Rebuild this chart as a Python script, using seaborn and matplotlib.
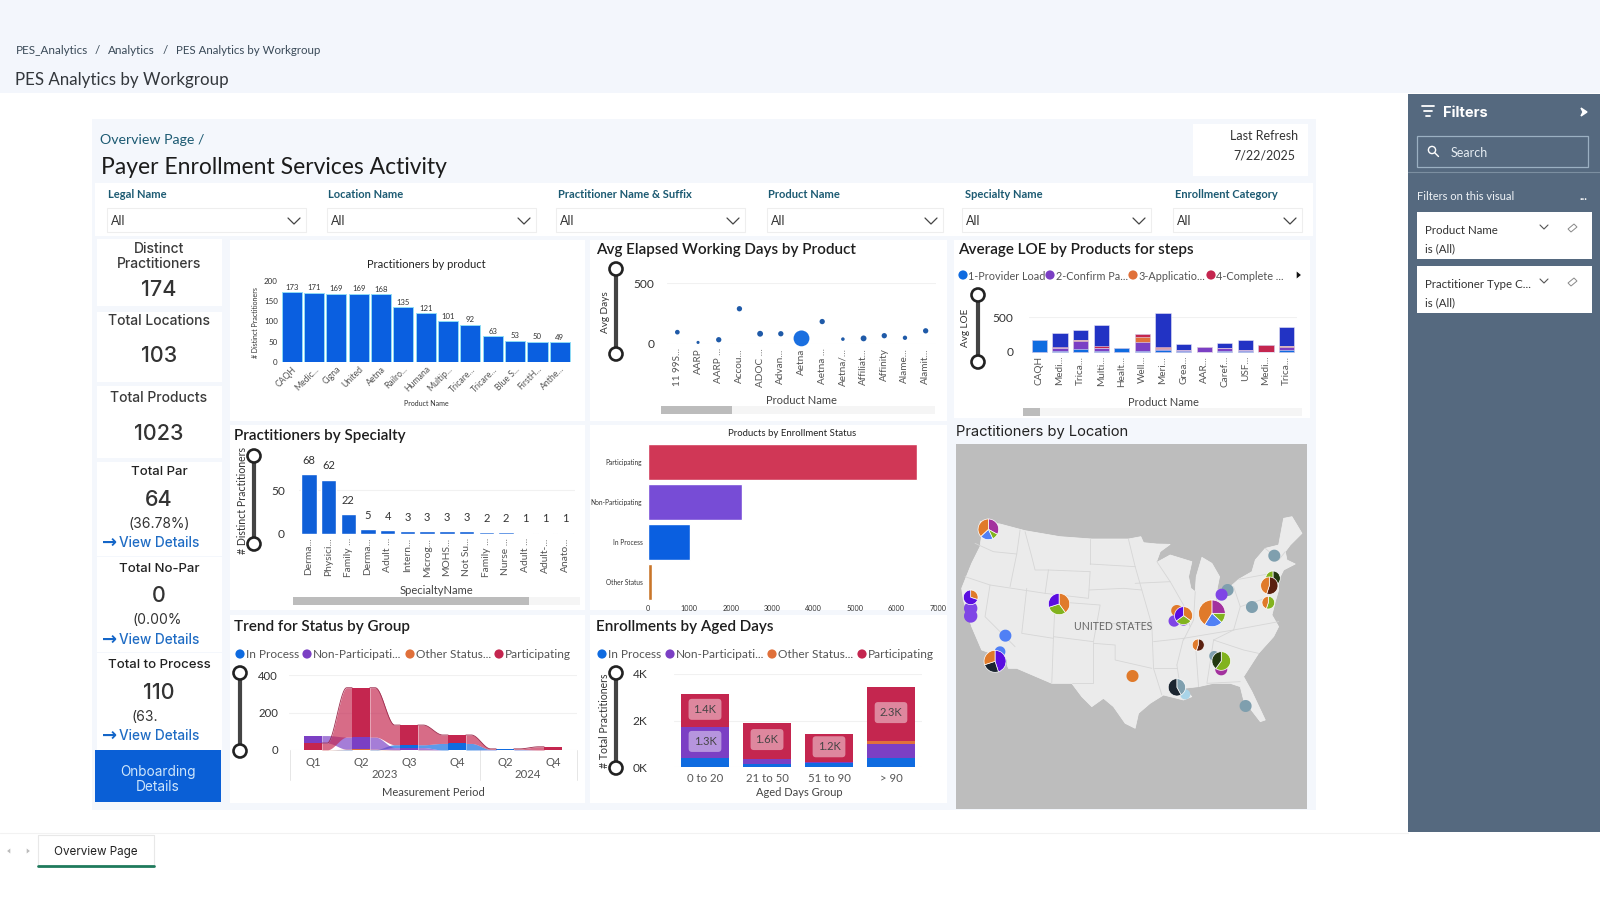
import numpy as np
import pandas as pd
import matplotlib
matplotlib.use("Agg")
import matplotlib.pyplot as plt
import seaborn as sns
from matplotlib.patches import Rectangle, Circle, Polygon

# ---- data ----
product_names = ["CAQH", "Medic...", "Cigna", "United", "Aetna", "Railro...", "Humana",
                 "Multip...", "Tricare...", "Tricare...", "Blue S...", "FirstH...", "Anthe..."]
product_counts = [173, 171, 169, 169, 168, 135, 121, 101, 92, 63, 53, 50, 49]

elapsed_names = ["11 99S...", "AARP", "AARP ...", "Accou...", "ADOC ...", "Advan...", "Aetna",
                 "Aetna ...", "Aetna/...", "Affiliat...", "Affinity", "Alame...", "Alamit..."]
elapsed_days = [97, 13, 35, 289, 84, 84, 46, 184, 40, 46, 68, 51, 108]
elapsed_weight = [3, 1, 4, 4, 5, 4, 40, 4, 1.5, 5, 4, 2.5, 4]

loe_names = ["CAQH", "Medi...", "Trica...", "Multi...", "Healt...", "Well...", "Meri...",
             "Grea...", "AAR...", "Caref...", "USF...", "Medi...", "Trica..."]
loe_provider = [170, 12, 45, 12, 48, 5, 20, 15, 0, 5, 12, 0, 25]
loe_confirm = [0, 45, 105, 40, 0, 135, 25, 15, 65, 45, 10, 0, 40]
loe_application = [0, 0, 15, 5, 0, 70, 10, 0, 0, 5, 0, 0, 10]
loe_complete = [0, 5, 0, 20, 0, 47, 15, 0, 8, 5, 0, 102, 10]
loe_other = [0, 205, 150, 311, 0, 0, 488, 82, 0, 61, 148, 0, 269]

specialty_names = ["Derma...", "Physici...", "Family ...", "Derma...", "Adult ...", "Intern...", "Microg...",
                   "MOHS...", "Not Su...", "Family ...", "Nurse ...", "Adult ...", "Adult-...", "Anato..."]
specialty_counts = [68, 62, 22, 5, 4, 3, 3, 3, 3, 2, 2, 1, 1, 1]

status_names = ["Participating", "Non-Participating", "In Process", "Other Status"]
status_totals = [6500, 2280, 1020, 100]

period_labels = ["Q1", "Q2", "Q3", "Q4", "Q2", "Q4"]
trend_in_process = [0, 2, 15, 35, 2, 0]
trend_non_part = [40, 65, 12, 0, 1, 0]
trend_other = [1, 2, 1, 0, 0, 0]
trend_part = [36, 263, 105, 45, 3, 17]

aged_groups = ["0 to 20", "21 to 50", "51 to 90", "> 90"]
aged_in_process = [390, 130, 170, 390]
aged_non_part = [1320, 215, 40, 600]
aged_other = [20, 10, 0, 140]
aged_part = [1400, 1550, 1220, 2320]
aged_part_labels = ["1.4K", "1.6K", "1.2K", "2.3K"]

# map sites: x, y on the map panel, radius, pie parts, pie colours
ORANGE, MAGENTA, GREEN, BLUE2 = "#e07a2a", "#a3319e", "#82b31e", "#5080f5"
VIOLET, PURPLE2, TEAL, DARK = "#5a0de0", "#7f45e6", "#7f9fae", "#1b2530"
BROWN, LBLUE, DGREEN = "#5a2010", "#a9d4e8", "#23380f"
map_x = [115, 62, 62, 62, 327, 166, 150, 155, 135, 547, 680, 672, 700, 700, 832, 785, 814, 744,
         972, 905, 954, 968, 957, 792, 813, 813, 705, 680, 886]
map_y = [328, 565, 588, 532, 552, 647, 695, 725, 724, 768, 572, 603, 600, 587, 510, 580, 524, 675,
         407, 561, 548, 475, 497, 708, 748, 723, 823, 802, 858]
map_r = [31, 20, 20, 22, 32, 18, 16, 15, 33, 18, 17, 17, 17, 27, 18, 40, 18, 18,
         18, 18, 19, 22, 26, 15, 18, 28, 15, 26, 18]
map_parts = [[33, 10, 20, 37], [1], [1], [30, 70], [40, 30, 30], [1], [1], [1], [45, 25, 30], [1],
             [1], [1], [1], [35, 30, 35], [1], [25, 12, 22, 41], [1], [55, 45],
             [1], [1], [55, 45], [50, 50], [55, 45], [1], [1], [60, 40], [1], [42, 58], [1]]
map_colors = [[MAGENTA, GREEN, BLUE2, ORANGE], [PURPLE2], [PURPLE2], [ORANGE, VIOLET],
              [ORANGE, GREEN, VIOLET], [BLUE2], [BLUE2], [TEAL], [VIOLET, DARK, ORANGE], [ORANGE],
              [ORANGE], [PURPLE2], [PURPLE2], [ORANGE, GREEN, VIOLET], [TEAL],
              [MAGENTA, GREEN, BLUE2, ORANGE], [PURPLE2], [BROWN, ORANGE],
              [TEAL], [TEAL], [GREEN, ORANGE], [DGREEN, GREEN], [BROWN, ORANGE], [TEAL], [MAGENTA],
              [GREEN, DGREEN], [LBLUE], [TEAL, DARK], [TEAL]]

us_outline = [(90, 305), (150, 312), (225, 332), (330, 350), (425, 357), (535, 357), (572, 350),
              (580, 368), (620, 372), (660, 373), (630, 395), (618, 428), (660, 405), (725, 425),
              (715, 470), (722, 505), (735, 515), (738, 470), (755, 412), (785, 430), (808, 470),
              (800, 510), (835, 505), (865, 478), (905, 455), (915, 420), (945, 385), (985, 375),
              (1000, 295), (1025, 290), (1055, 340), (1020, 375), (1005, 395), (1010, 420),
              (1035, 432), (1000, 450), (985, 480), (985, 510), (975, 545), (965, 585), (985, 620),
              (970, 650), (925, 700), (880, 770), (905, 815), (945, 900), (930, 905), (880, 840),
              (870, 800), (840, 790), (790, 790), (745, 800), (700, 805), (725, 830), (700, 840),
              (640, 825), (600, 850), (565, 880), (555, 925), (525, 910), (490, 860), (460, 835),
              (425, 860), (395, 830), (365, 790), (305, 790), (200, 745), (175, 745), (165, 715),
              (95, 690), (65, 620), (40, 540), (35, 505), (65, 430), (90, 380), (95, 345)]
us_lines = [
    [(75, 370), (130, 395), (200, 402)], [(210, 330), (200, 402), (180, 500)],
    [(225, 335), (245, 410), (255, 450), (295, 450)], [(420, 357), (420, 432)],
    [(295, 450), (420, 455)], [(420, 432), (555, 440)], [(417, 510), (520, 505), (575, 510)],
    [(295, 450), (285, 520), (415, 535), (420, 455)], [(45, 470), (120, 495), (285, 520)],
    [(120, 495), (105, 590), (195, 680)], [(230, 505), (215, 640), (310, 655), (315, 545)],
    [(315, 545), (450, 555), (430, 665), (310, 650)], [(310, 655), (305, 790)],
    [(430, 665), (430, 790), (365, 790)], [(430, 670), (495, 675), (495, 720), (605, 745)],
    [(450, 610), (605, 615)], [(535, 358), (555, 440), (575, 510), (605, 615), (610, 745), (635, 825)],
    [(555, 490), (660, 485)], [(620, 425), (660, 485), (700, 555), (720, 620), (700, 660)],
    [(610, 665), (700, 655), (850, 630), (985, 605)], [(680, 735), (700, 655)],
    [(610, 745), (680, 745)], [(680, 735), (690, 800)], [(735, 665), (745, 800)], [(790, 660), (770, 790), (870, 785)],
    [(735, 515), (730, 600), (720, 620)], [(800, 515), (795, 600)], [(850, 500), (870, 560), (850, 630)],
    [(865, 478), (965, 460)], [(870, 560), (960, 530)], [(790, 660), (880, 690), (925, 700)],
    [(850, 630), (790, 660)], [(945, 385), (985, 420), (1005, 395)],
]

STATUS_BLUE, STATUS_PURPLE, STATUS_ORANGE, STATUS_RED = "#0f6be0", "#7b3fc4", "#e0703a", "#c4264f"
INK = "#333333"
LABEL_GRAY = "#555555"

sns.set_theme(style="white")
plt.rcParams["font.family"] = ["Lato", "DejaVu Sans"]
plt.rcParams["axes.unicode_minus"] = False

W, H = 1600, 900
fig = plt.figure(figsize=(16, 9), dpi=100, facecolor="white")
ui = fig.add_axes([0, 0, 1, 1], zorder=0)
ui.set_xlim(0, W)
ui.set_ylim(H, 0)
ui.axis("off")


def chart_axes(x0, y0, x1, y1):
    """Axes placed by pixel box, y0 is the top edge."""
    ax = fig.add_axes([x0 / W, 1 - y1 / H, (x1 - x0) / W, (y1 - y0) / H], zorder=2)
    ax.patch.set_alpha(0)
    return ax


def box(x0, y0, x1, y1, color="white", ec="none", lw=0, z=1):
    ui.add_patch(Rectangle((x0, y0), x1 - x0, y1 - y0, facecolor=color, edgecolor=ec, linewidth=lw, zorder=z))


def label(x, y, s, size=9, color=INK, ha="left", weight="normal", family=None, rot=0, z=6):
    fam = family if family else ["Lato", "DejaVu Sans"]
    ui.text(x, y + 1, s, fontsize=size, color=color, ha=ha, va="center", fontweight=weight,
            family=fam, rotation=rot, zorder=z)


def slider(x, y0, y1):
    ui.plot([x, x], [y0, y1], color="#444444", lw=3, zorder=4, solid_capstyle="butt")
    for y in (y0, y1):
        ui.add_patch(Circle((x, y), 6.5, facecolor="white", edgecolor="#222222", linewidth=1.9, zorder=5))


def scrollbar(x0, x1, y0, y1, track_end):
    box(x1, y0, track_end, y1, "#f5f5f5", z=3)
    box(x0, y0, x1, y1, "#bcbcbc", z=3)


def legend_row(y, xs, names, colors, size=8.6):
    for x, name, col in zip(xs, names, colors):
        ui.add_patch(Circle((x, y), 4.6, facecolor=col, edgecolor="none", zorder=5))
        label(x + 5.5, y, name, size=size, color=LABEL_GRAY)


def clean_axes(ax, grid=True):
    sns.despine(ax=ax, left=True, bottom=True)
    ax.tick_params(length=0, pad=2)
    ax.set_xlabel("")
    ax.set_ylabel("")
    if grid:
        ax.grid(axis="y", color="#f1f1f1", lw=0.8)
        ax.set_axisbelow(True)


def stacked_bars(ax, series, colors, width, edge="#e8e4f4"):
    # tallest stack first, each lower series painted over it
    totals = np.cumsum(np.array(series, dtype=float), axis=0)
    pos = np.arange(totals.shape[1])
    for level in range(len(series) - 1, -1, -1):
        sns.barplot(x=pos, y=totals[level], color=colors[level], saturation=1, width=width,
                    edgecolor=edge, linewidth=0.4, clip_on=False, ax=ax)


# ---- page chrome ----
box(0, 0, W, 93, "#f3f6fc")
box(92, 119, 1316, 810, "#f4f7fc")
label(16, 49, "PES_Analytics", size=8.4, color="#3a4a58")
label(95, 49, "/", size=8.4, color="#3a4a58")
label(108, 49, "Analytics", size=8.4, color="#3a4a58")
label(163, 49, "/", size=8.4, color="#3a4a58")
label(176, 49, "PES Analytics by Workgroup", size=8.25, color="#3a4a58")
label(15, 79, "PES Analytics by Workgroup", size=12.2, color="#33373c")

label(100, 139, "Overview Page /", size=10.2, color="#1c5a72")
label(101, 167, "Payer Enrollment Services Activity", size=16.5, color="#1c1c1c")
box(1193, 124, 1308, 176)
label(1264, 135, "Last Refresh", size=9, ha="center")
label(1264, 155, "7/22/2025", size=9, ha="center")

# slicer row
box(95, 183, 1313, 236)
slicer_names = ["Legal Name", "Location Name", "Practitioner Name & Suffix", "Product Name",
                "Specialty Name", "Enrollment Category"]
slicer_label_x = [108, 328, 558, 768, 965, 1175]
slicer_box = [(107, 306), (327, 536), (556, 745), (767, 943), (962, 1151), (1173, 1302)]
for name, lx, (b0, b1) in zip(slicer_names, slicer_label_x, slicer_box):
    label(lx, 193, name, size=8, color="#1c5a72", weight="bold")
    box(b0, 208, b1, 232, "white", ec="#eeeeee", lw=0.8, z=2)
    label(b0 + 4, 220, "All", size=9, color="#333333")
    ui.plot([b1 - 18, b1 - 12, b1 - 6], [218, 224, 218], color="#444444", lw=0.9, zorder=3)

# KPI cards
card_font = ["Inter", "DejaVu Sans"]
for y0, y1 in [(239, 306), (312, 382), (386, 458), (462, 556), (557, 652), (653, 750)]:
    box(97, y0, 222, y1)
label(159, 248, "Distinct", size=10, ha="center", family=card_font, color="#3a3a3a", weight="medium")
label(159, 263, "Practitioners", size=10, ha="center", family=card_font, color="#3a3a3a", weight="medium")
label(159, 289, "174", size=15.5, ha="center", family=card_font, color="#333333", weight="medium")
label(159, 320, "Total Locations", size=10, ha="center", family=card_font, color="#3a3a3a", weight="medium")
label(159, 355, "103", size=15.5, ha="center", family=card_font, color="#333333", weight="medium")
label(159, 397, "Total Products", size=10, ha="center", family=card_font, color="#3a3a3a", weight="medium")
label(159, 433, "1023", size=15.5, ha="center", family=card_font, color="#333333", weight="medium")

kpi_titles = ["Total Par", "Total No-Par", "Total to Process"]
kpi_values = ["64", "0", "110"]
kpi_shares = ["(36.78%)", "(0.00%", "(63."]
kpi_share_x = [159, 157, 145]
for i, (t, v, s) in enumerate(zip(kpi_titles, kpi_values, kpi_shares)):
    y = 471 + i * 96.5
    label(159, y, t, size=9.5, ha="center", family=card_font, color="#222222", weight="medium")
    label(159, y + 28, v, size=15.5, ha="center", family=card_font, color="#333333", weight="medium")
    label(kpi_share_x[i], y + 52, s, size=10, ha="center", family=card_font, color="#333333")
    label(102, y + 71, "\u2192", size=13, color="#1466c8", weight="bold", family=["DejaVu Sans"])
    label(119, y + 71, "View Details", size=9.8, color="#1f6cc4", family=card_font, weight="medium")
box(95, 750, 221, 802, "#0a5fd6")
label(158, 771, "Onboarding", size=9.8, ha="center", color="#cfe6fb", family=card_font)
label(158, 786, "Details", size=9.8, ha="center", color="#cfe6fb", family=card_font)

# chart cards
for x0, y0, x1, y1 in [(230, 240, 585, 421), (590, 240, 947, 421), (954, 240, 1310, 418),
                       (230, 425, 585, 610), (590, 425, 947, 610),
                       (230, 615, 585, 803), (590, 615, 947, 803)]:
    box(x0, y0, x1, y1)

TITLE_KW = dict(size=11, color="#1e1e1e", weight="semibold")
label(596, 249, "Avg Elapsed Working Days by Product", **TITLE_KW)
label(958, 249, "Average LOE by Products for steps", **TITLE_KW)
label(234, 435, "Practitioners by Specialty", **TITLE_KW)
label(234, 626, "Trend for Status by Group", **TITLE_KW)
label(596, 626, "Enrollments by Aged Days", **TITLE_KW)
label(956, 431, "Practitioners by Location", size=10.6, color="#222222", family=card_font)
label(426, 263, "Practitioners by product", size=8, ha="center", color="#222222")
label(792, 432, "Products by Enrollment Status", size=6.9, ha="center", color="#222222")

# ---- Practitioners by product ----
ax = chart_axes(280.5, 281, 571, 362)
sns.barplot(x=np.arange(len(product_counts)), y=product_counts, color="#0a5fe0", saturation=1,
            width=0.9, edgecolor="#8fdcf5", linewidth=0.7, ax=ax)
clean_axes(ax, grid=False)
ax.set_ylim(0, 200)
ax.set_yticks([0, 50, 100, 150, 200])
ax.tick_params(axis="y", labelsize=5.8, labelcolor=INK)
ax.set_xticks(np.arange(len(product_names)), product_names, rotation=45, ha="right",
              rotation_mode="anchor", fontsize=6.2, color=LABEL_GRAY)
ax.bar_label(ax.containers[0], fontsize=5.6, color=INK, padding=1)
label(256, 322, "# Distinct Practitioners", size=5, rot=90, ha="center")
label(426, 403, "Product Name", size=5, ha="center")

# ---- Avg elapsed days ----
slider(616, 269, 354)
label(605, 311, "Avg Days", size=7.2, rot=90, ha="center")
elapsed_df = pd.DataFrame({"pos": np.arange(len(elapsed_days)), "days": elapsed_days,
                           "weight": elapsed_weight,
                           "hot": [n == "Aetna" for n in elapsed_names]})
ax = chart_axes(667, 283, 936, 344)
sns.scatterplot(data=elapsed_df, x="pos", y="days", size="weight", sizes=(5, 130), hue="hot",
                palette={False: "#1f5aa8", True: "#1a6fe0"}, legend=False, linewidth=0, clip_on=False, ax=ax)
clean_axes(ax)
ax.set_xlim(-0.5, 12.5)
ax.set_ylim(0, 500)
ax.set_yticks([0, 500])
ax.tick_params(axis="y", labelsize=8.6, labelcolor=INK, pad=9)
ax.set_xticks(np.arange(len(elapsed_names)), elapsed_names, rotation=90, fontsize=7.2, color=LABEL_GRAY)
ax.tick_params(axis="x", pad=3)
label(801, 400, "Product Name", size=8, ha="center", color="#444444")
scrollbar(661, 732, 406, 414, 935)

# ---- Average LOE ----
slider(978, 295, 362)
label(966, 327, "Avg LOE", size=7.2, rot=90, ha="center")
legend_row(275, [963, 1050, 1133, 1211],
           ["1-Provider Load", "2-Confirm Pa...", "3-Applicatio...", "4-Complete ..."],
           [STATUS_BLUE, STATUS_PURPLE, STATUS_ORANGE, STATUS_RED], size=7.8)
ui.add_patch(Polygon([(1296, 270), (1302, 275), (1296, 280)], facecolor="#111111", zorder=5))
ax = chart_axes(1029, 317, 1297, 351.7)
stacked_bars(ax, [loe_provider, loe_confirm, loe_application, loe_complete, loe_other],
             [STATUS_BLUE, STATUS_PURPLE, STATUS_ORANGE, STATUS_RED, "#2233c4"], 0.74)
clean_axes(ax)
ax.set_ylim(0, 500)
ax.set_yticks([0, 500])
ax.tick_params(axis="y", labelsize=8.6, labelcolor=INK, pad=11)
ax.set_xticks(np.arange(len(loe_names)), loe_names, rotation=90, fontsize=7.2, color=LABEL_GRAY)
ax.tick_params(axis="x", pad=3)
label(1163, 401, "Product Name", size=8, ha="center", color="#444444")
scrollbar(1023, 1040, 408, 416, 1302)

# ---- Practitioners by specialty ----
slider(254, 456, 544)
label(243, 499, "# Distinct Practitioners", size=7.6, rot=90, ha="center")
ax = chart_axes(299, 463.8, 575, 533.7)
sns.barplot(x=np.arange(len(specialty_counts)), y=specialty_counts, color="#0f5fd8", saturation=1,
            width=0.78, ax=ax)
clean_axes(ax)
ax.set_ylim(0, 80)
ax.set_yticks([0, 50])
ax.tick_params(axis="y", labelsize=8.6, labelcolor=INK, pad=10)
ax.set_xticks(np.arange(len(specialty_names)), specialty_names, rotation=90, fontsize=7.4, color=LABEL_GRAY)
ax.tick_params(axis="x", pad=3)
ax.bar_label(ax.containers[0], fontsize=8, color=INK, padding=6, clip_on=False)
label(436, 590, "SpecialtyName", size=8, ha="center", color="#444444")
scrollbar(293, 529, 597, 605, 580)

# ---- Products by enrollment status ----
ax = chart_axes(648, 442, 937.7, 602)
sns.barplot(y=status_names, x=status_totals, hue=status_names, legend=False, saturation=1, width=0.9,
            palette=["#d03756", "#774cd6", "#0a5fe0", "#c9762a"], ax=ax)
clean_axes(ax, grid=False)
ax.set_xlim(0, 7000)
ax.set_xticks(np.arange(0, 8000, 1000))
ax.tick_params(axis="x", labelsize=5.2, labelcolor=INK)
ax.tick_params(axis="y", labelsize=4.8, labelcolor=INK, pad=4)

# ---- Trend ribbon ----
slider(240, 673, 751)
legend_names = ["In Process", "Non-Participati...", "Other Status...", "Participating"]
legend_cols = [STATUS_BLUE, STATUS_PURPLE, STATUS_ORANGE, STATUS_RED]
legend_row(654, [240, 307, 410, 499], legend_names, legend_cols)
ax = chart_axes(289, 675, 577, 750)
trend = np.array([trend_in_process, trend_non_part, trend_other, trend_part], dtype=float)
bottoms = np.zeros_like(trend)
for j in range(trend.shape[1]):
    running = 0.0
    for i in np.argsort(trend[:, j]):  # biggest series ends up on top
        bottoms[i, j] = running
        running += trend[i, j]
half = 0.185
blend = np.clip((np.linspace(0, 1, 60) - 0.18) / 0.64, 0, 1)
blend = 3 * blend ** 2 - 2 * blend ** 3
for i, col in enumerate(legend_cols):
    for j in range(trend.shape[1] - 1):
        xs = np.linspace(j + half, j + 1 - half, 60)
        lo = bottoms[i, j] + (bottoms[i, j + 1] - bottoms[i, j]) * blend
        hi = lo + trend[i, j] + (trend[i, j + 1] - trend[i, j]) * blend
        ax.fill_between(xs, lo, hi, color=col, alpha=0.68, linewidth=0)
        if i == 3:
            ax.plot(xs, hi, color="#9c2a4c", lw=0.6)
    ax.bar(np.arange(trend.shape[1]), trend[i], bottom=bottoms[i], width=half * 2, color=col, linewidth=0)
clean_axes(ax)
ax.set_xlim(-0.5, 5.5)
ax.set_ylim(0, 400)
ax.set_yticks([0, 200, 400])
ax.tick_params(axis="y", labelsize=8.2, labelcolor=INK, pad=8)
ax.set_xticks(np.arange(len(period_labels)), period_labels, fontsize=8.2, color=LABEL_GRAY)
ax.tick_params(axis="x", pad=5)
for px in (289.5, 480, 577):
    ui.plot([px, px], [750, 780], color="#e6e6e6", lw=0.7, zorder=3)
label(385, 774, "2023", size=8.2, ha="center", color=LABEL_GRAY)
label(528, 774, "2024", size=8.2, ha="center", color=LABEL_GRAY)
label(433, 792, "Measurement Period", size=8, ha="center", color="#444444")

# ---- Enrollments by aged days ----
slider(616, 673, 768)
label(604, 720, "# Total Practitioners", size=7.6, rot=90, ha="center")
legend_row(654, [602, 670, 772, 862], legend_names, legend_cols)
ax = chart_axes(674, 674, 922, 767)
stacked_bars(ax, [aged_in_process, aged_non_part, aged_other, aged_part], legend_cols, 0.76, edge="none")
clean_axes(ax)
ax.set_ylim(0, 4000)
ax.set_yticks([0, 2000, 4000], ["0K", "2K", "4K"])
ax.tick_params(axis="y", labelsize=8.6, labelcolor=INK, pad=19)
ax.set_xticks(np.arange(len(aged_groups)), aged_groups, fontsize=8.2, color=LABEL_GRAY)
ax.tick_params(axis="x", pad=4)
pill = dict(boxstyle="round,pad=0.45,rounding_size=0.3", facecolor="white", alpha=0.45, edgecolor="none")
for j, txt in enumerate(aged_part_labels):
    base = aged_in_process[j] + aged_non_part[j] + aged_other[j]
    ax.text(j, base + aged_part[j] / 2 + 50, txt, ha="center", va="center", fontsize=8, color="#444444", bbox=pill)
ax.text(0, aged_in_process[0] + aged_non_part[0] / 2 + 50, "1.3K", ha="center", va="center",
        fontsize=8, color="#444444", bbox=pill)
label(799, 792, "Aged Days Group", size=8, ha="center", color="#444444")

# ---- Location map ----
box(956, 444, 1307, 809, "#bdbdbd")
ax = chart_axes(956, 444, 1307, 809)
ax.add_patch(Polygon(us_outline, facecolor="#ebebeb", edgecolor="#f1f1f1", linewidth=0.5, zorder=1))
for seg in us_lines:
    ax.plot(*zip(*seg), color="#d6d6d6", lw=0.6, zorder=1)
for mx, my, mr, parts, cols in zip(map_x, map_y, map_r, map_parts, map_colors):
    ax.pie(parts, center=(mx, my), radius=mr, colors=cols, startangle=-90, counterclock=True,
           wedgeprops=dict(edgecolor="white", linewidth=0.5 if len(parts) > 1 else 0))
ax.set_aspect("auto")
ax.set_xlim(18, 1070)
ax.set_ylim(1167, 72)
ax.axis("off")
ax.text(488, 621, "UNITED STATES", ha="center", va="center", fontsize=7.6, color="#666666", zorder=9)

# ---- Filters pane ----
box(1408, 94, W, 832, "#55697f")
for y, x0, x1 in [(106, 1422, 1434), (111, 1424, 1432), (116, 1426, 1430)]:
    ui.plot([x0, x1], [y, y], color="white", lw=1.3, zorder=3)
label(1443, 112, "Filters", size=10.5, color="white", weight="bold", family=card_font)
ui.add_patch(Polygon([(1581, 108), (1587, 112), (1581, 116), (1583, 112)], facecolor="white", zorder=3))
box(1417, 136, 1588, 167, "#55697f", ec="#9bb0c2", lw=0.9, z=2)
ui.add_patch(Circle((1432, 150), 3.6, facecolor="none", edgecolor="white", linewidth=1, zorder=3))
ui.plot([1435, 1438.5], [153, 156.5], color="white", lw=1, zorder=3)
label(1451, 152, "Search", size=9, color="#e6edf3")
ui.plot([1408, W], [172, 172], color="#7c8fa1", lw=0.8, zorder=3)
label(1417, 195, "Filters on this visual", size=8, color="#eef2f6")
label(1583, 195, "...", size=8, color="white", ha="center", weight="bold")
for y0, name in [(212, "Product Name"), (266, "Practitioner Type C...")]:
    box(1417, y0, 1592, y0 + 47, "white", z=2)
    label(1425, y0 + 17, name, size=8.3, color="#333333")
    label(1425, y0 + 36, "is (All)", size=8.3, color="#333333")
    ui.plot([1540, 1544, 1548], [y0 + 13, y0 + 17, y0 + 13], color="#555555", lw=0.8, zorder=3)
    ui.add_patch(Polygon([(1568, y0 + 17), (1574, y0 + 12), (1577, y0 + 15), (1571, y0 + 20)],
                         facecolor="white", edgecolor="#888888", linewidth=0.7, zorder=3))

# ---- Bottom tab strip ----
box(0, 832, W, H, "white")
ui.plot([0, 1408], [833, 833], color="#f2f2f2", lw=0.8, zorder=2)
ui.plot([38, 38, 154, 154], [866, 835, 835, 866], color="#e8e8e8", lw=0.8, zorder=2)
ui.plot([38, 154], [866, 866], color="#1f7a5c", lw=2, zorder=3)
label(96, 851, "Overview Page", size=8.4, ha="center", color="#222222", family=card_font)
ui.add_patch(Polygon([(11, 847), (6, 851), (11, 855)], facecolor="#bbbbbb", zorder=3))
ui.add_patch(Polygon([(26, 847), (31, 851), (26, 855)], facecolor="#bbbbbb", zorder=3))

fig.savefig("out.png", dpi=100)
